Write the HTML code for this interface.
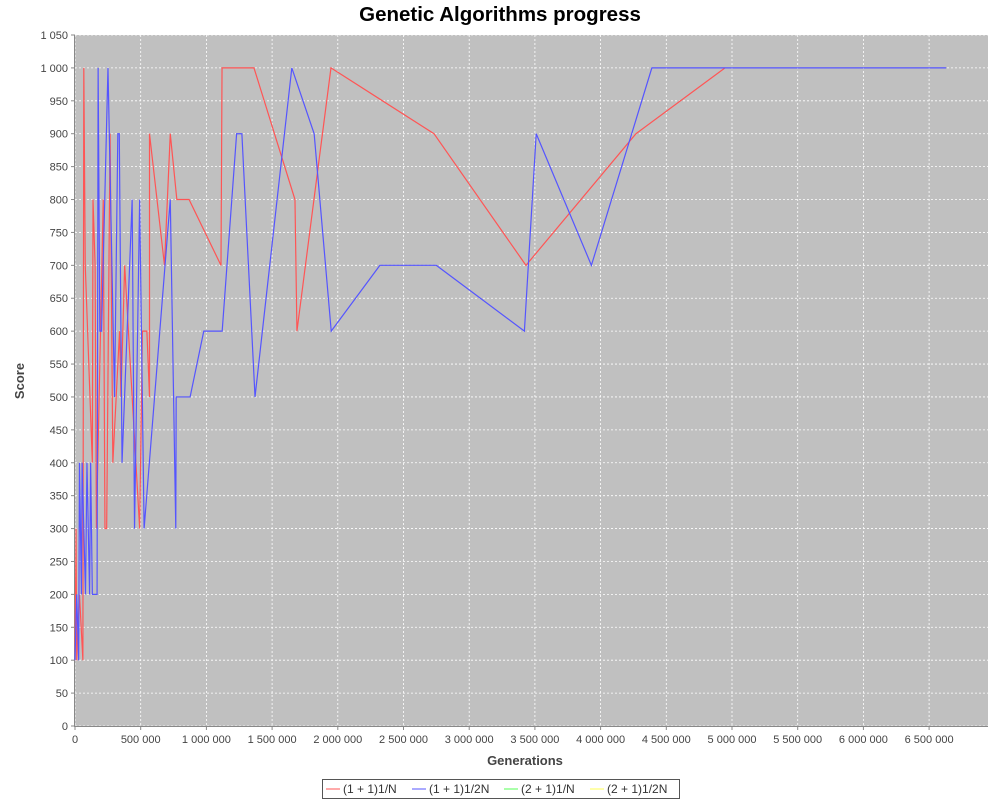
<!DOCTYPE html>
<html><head><meta charset="utf-8"><style>
body{margin:0;background:#fff;font-family:"Liberation Sans","DejaVu Sans",sans-serif}
svg{display:block}
</style></head><body>
<svg width="1000" height="800" id="svg">
<text x="500" y="21" text-anchor="middle" font-size="20.5" font-weight="bold">Genetic Algorithms progress</text>
<rect x="75" y="35" width="913" height="691" fill="#c0c0c0"/>
<g id="grid"></g><g id="axes"></g><g id="series"></g>
<text x="525" y="765" text-anchor="middle" font-size="13" font-weight="bold" fill="#444">Generations</text>
<text transform="translate(24,381) rotate(-90)" text-anchor="middle" font-size="13" font-weight="bold" fill="#444">Score</text>
<g>
<rect x="322.5" y="779.5" width="357" height="19" fill="#fff" stroke="#555"/>
<g><line x1="326" y1="789" x2="340" y2="789" stroke="#ff5555"/><text x="343" y="793" font-size="12" fill="#333">(1 + 1)1/N</text></g>
<g><line x1="412" y1="789" x2="426" y2="789" stroke="#5555ff"/><text x="429" y="793" font-size="12" fill="#333">(1 + 1)1/2N</text></g>
<g><line x1="504" y1="789" x2="518" y2="789" stroke="#55ff55"/><text x="521" y="793" font-size="12" fill="#333">(2 + 1)1/N</text></g>
<g><line x1="590" y1="789" x2="604" y2="789" stroke="#ffff55"/><text x="607" y="793" font-size="12" fill="#333">(2 + 1)1/2N</text></g>
</g>
</svg>
<script>
const redGen=[0,8e3,13e3,34e3,60e3,67e3,78e3,132e3,137e3,153e3,163e3,215e3,228e3,241e3,267e3,288e3,339e3,350e3,378e3,492e3,513e3,547e3,567e3,567e3,681e3,725e3,775e3,868e3,1111e3,1119e3,1362e3,1674e3,1689e3,1948e3,2732e3,3432e3,4269e3,4947e3];
const redVal=[100,300,100,200,100,1000,700,400,800,700,300,800,300,300,900,400,600,500,700,300,600,600,500,900,700,900,800,800,700,1000,1000,800,600,1000,900,700,900,1000];
const blueGen=[0,13e3,28e3,34e3,49e3,54e3,80e3,91e3,111e3,119e3,132e3,168e3,176e3,189e3,202e3,251e3,301e3,326e3,337e3,358e3,435e3,453e3,492e3,526e3,725e3,767e3,770e3,876e3,980e3,1120e3,1230e3,1270e3,1370e3,1650e3,1820e3,1950e3,2320e3,2750e3,3420e3,3510e3,3930e3,4390e3,6630e3];
const blueVal=[100,200,100,400,200,400,200,400,200,400,200,200,1000,600,600,1000,500,900,900,400,800,300,800,300,800,300,500,500,600,600,900,900,500,1000,900,600,700,700,600,900,700,1000,1000];
const yTicks=[0,50,100,150,200,250,300,350,400,450,500,550,600,650,700,750,800,850,900,950,1000,1050];
const xTicks=[0,5e5,1e6,1.5e6,2e6,2.5e6,3e6,3.5e6,4e6,4.5e6,5e6,5.5e6,6e6,6.5e6];
const X=v=>75+v*131.4/1e6, Y=v=>726-v*691/1050;
const NS='http://www.w3.org/2000/svg';
const fmt=v=>String(v).replace(/\B(?=(\d{3})+(?!\d))/g,' ');
function mk(t,a,p){const e=document.createElementNS(NS,t);for(const k in a)e.setAttribute(k,a[k]);p.appendChild(e);return e;}
const grid=document.getElementById('grid'),axes=document.getElementById('axes'),ser=document.getElementById('series');
yTicks.forEach(v=>{const y=Y(v);
 const g=mk('line',{x1:75,x2:988,y1:y,y2:y,stroke:'#fff','stroke-dasharray':'2,2','stroke-width':0.8},grid);
 
 
 mk('line',{x1:71,x2:75,y1:y,y2:y,stroke:'#888'},axes);
 const t=mk('text',{x:68,y:y+4,'text-anchor':'end','font-size':11,fill:'#444'},axes);t.textContent=fmt(v);
 
 });
xTicks.forEach(v=>{const x=X(v);
 const g=mk('line',{x1:x,x2:x,y1:35,y2:726,stroke:'#fff','stroke-dasharray':'2,2','stroke-width':0.8},grid);
 
 
 mk('line',{x1:x,x2:x,y1:726,y2:730,stroke:'#888'},axes);
 const t=mk('text',{x:x,y:743,'text-anchor':'middle','font-size':11,fill:'#444'},axes);t.textContent=fmt(v);
 
 });
mk('line',{x1:74.5,x2:74.5,y1:35,y2:727,stroke:'#888'},axes);
mk('line',{x1:74,x2:988,y1:726.5,y2:726.5,stroke:'#888'},axes);
function line(g,v,c,n){const p=mk('polyline',{points:g.map((x,i)=>X(x)+','+Y(v[i])).join(' '),fill:'none',stroke:c,'stroke-width':1.2},ser);
 
 }
line(redGen,redVal,'#ff5555','series-1-1-1n');
line(blueGen,blueVal,'#5555ff','series-1-1-12n');
</script>
</body></html>
